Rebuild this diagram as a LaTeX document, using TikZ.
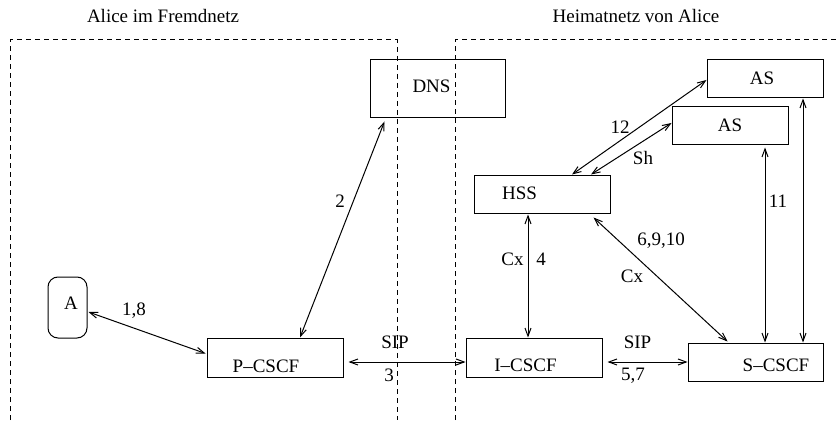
\documentclass[tikz,border=0pt]{standalone}
\usepackage{fontspec}
\setmainfont{Liberation Serif}
\usepackage{tikz}
\usetikzlibrary{arrows.meta}
\usetikzlibrary{calc}
\tikzset{
net box/.style = { rectangle, draw = black, line width = 0.5pt, inner sep = 0pt },
net text/.style = { inner sep = 0pt },
net link/.style = { line width = 0.5pt, {Straight Barb[length = 4pt, width = 3pt]}-{Straight Barb[length = 4pt, width = 3pt]} },
net border/.style = { line width = 0.5pt, dash pattern = on 2.5pt off 2pt },
}

\begin{document}
\begin{tikzpicture}[x = 0.5pt, y = -0.5pt, font = \fontsize{9.5}{11}\selectfont]
      \useasboundingbox (0, 0) rectangle (840, 427);
      % Netze
      \draw[net border] (10, 420) -- (10, 40) -- (397, 40) -- (397, 420);
      \draw[net border] (455, 420) -- (455, 40) -- (840, 40);
      \node[net text] (fremd) at (163, 16) {Alice im Fremdnetz};
      \node[net text] (heimat) at (636, 16) {Heimatnetz von Alice};
      % Knoten
      \node[net box, minimum width = 67.5pt, minimum height = 29pt] (dns) at (437.5, 89) {};
      \node[net box, minimum width = 58pt, minimum height = 19pt] (as1) at (765, 79) {};
      \node[net box, minimum width = 58pt, minimum height = 19pt] (as2) at (730, 126) {};
      \node[net box, minimum width = 68pt, minimum height = 19pt] (hss) at (542, 195) {};
      \node[net box, minimum width = 19.5pt, minimum height = 30.5pt, rounded corners = 5pt] (a) at (67.5, 307.5) {};
      \node[net box, minimum width = 68pt, minimum height = 19.5pt] (pcscf) at (275, 357.5) {};
      \node[net box, minimum width = 68pt, minimum height = 19.5pt] (icscf) at (534, 357.5) {};
      \node[net box, minimum width = 67.5pt, minimum height = 19pt] (scscf) at (755.5, 362) {};
      \node[net text] (dnst) at (431.5, 86) {DNS};
      \node[net text] (as1t) at (762, 78) {AS};
      \node[net text] (as2t) at (730, 125) {AS};
      \node[net text] (hsst) at (519.5, 193.5) {HSS};
      \node[net text] (at) at (71, 303) {A};
      \node[net text] (pcscft) at (266, 366) {P--CSCF};
      \node[net text] (icscft) at (525.5, 365) {I--CSCF};
      \node[net text] (scscft) at (776, 365) {S--CSCF};
      % Verbindungen
      \draw[net link] ($(a.east) + (1, 4.5)$) -- ($(pcscf.west) + (-1, -4)$);
      \draw[net link] ($(dns.south west) + (15, 3)$) -- ($(pcscf.north) + (25, 0)$);
      \draw[net link] ($(pcscf.east) + (5, 4.5)$) -- ($(icscf.west) + (0, 4.5)$);
      \draw[net link] ($(hss.south) + (-14, 0)$) -- ($(icscf.north) + (-6, 0)$);
      \draw[net link] ($(hss.south east) + (-17, 3)$) -- ($(scscf.north west) + (40, -1)$);
      \draw[net link] ($(hss.north) + (30, -1)$) -- ($(as1.west) + (0, 1)$);
      \draw[net link] ($(hss.north) + (49, -1)$) -- ($(as2.west) + (0, -3)$);
      \draw[net link] ($(as2.south) + (35, 2)$) -- ($(scscf.north) + (9.5, 0)$);
      \draw[net link] ($(as1.south) + (38, 0)$) -- ($(scscf.north) + (47.5, 0)$);
      \draw[net link] ($(icscf.east) + (5, 4.5)$) -- (scscf.west);
      % Beschriftungen
      \node[net text] (l18) at (134, 311) {1,8};
      \node[net text] (l2) at (340, 201) {2};
      \node[net text] (lsip1) at (395, 342) {SIP};
      \node[net text] (l3) at (389, 375) {3};
      \node[net text] (lcx1) at (512.5, 259) {Cx};
      \node[net text] (l4) at (541, 259) {4};
      \node[net text] (l6910) at (661, 241) {6,9,10};
      \node[net text] (lcx2) at (632, 276) {Cx};
      \node[net text] (lsip2) at (637.5, 342) {SIP};
      \node[net text] (l57) at (633, 376) {5,7};
      \node[net text] (l12) at (620, 127.5) {12};
      \node[net text] (lsh) at (643, 158) {Sh};
      \node[net text] (l11) at (778, 201) {11};
\end{tikzpicture}
\end{document}
